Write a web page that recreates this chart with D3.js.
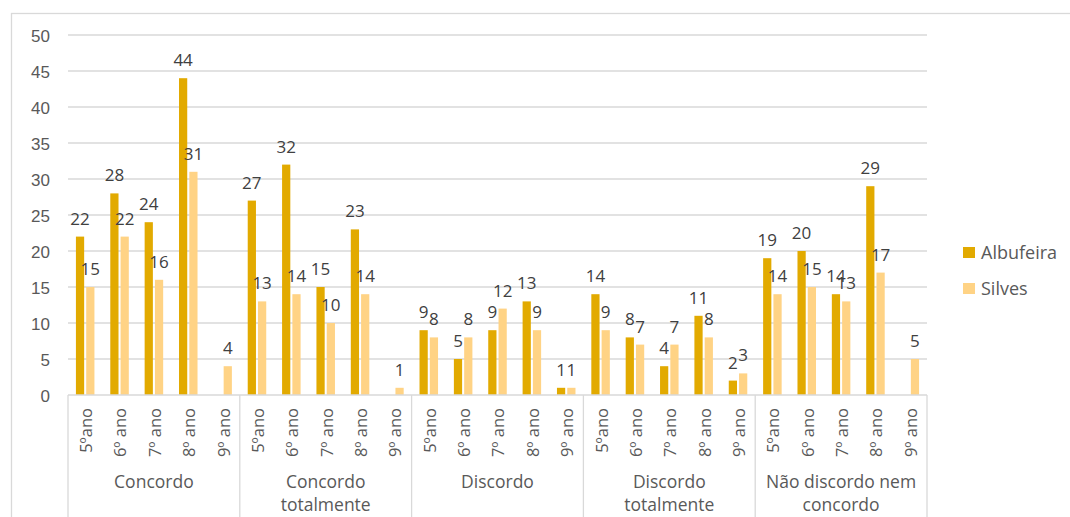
<!DOCTYPE html>
<html>
<head>
<meta charset="utf-8">
<script src="https://cdn.jsdelivr.net/npm/d3@7"></script>
<style>
  body { margin: 0; background: #fff; }
  svg { display: block; font-family: "Open Sans", sans-serif; }
</style>
</head>
<body>
<script>
let groups = ["Concordo", "Concordo totalmente", "Discordo", "Discordo totalmente", "Não discordo nem concordo"];
let groupLines = [["Concordo"], ["Concordo", "totalmente"], ["Discordo"], ["Discordo", "totalmente"], ["Não discordo nem", "concordo"]];
let years = ["5ºano", "6º ano", "7º ano", "8º ano", "9º ano"];
let series = ["Albufeira", "Silves"];
let colors = ["#e2aa00", "#ffd385"];

// one row per group, one value per year (null = no bar)
let albufeira = [
  [22, 28, 24, 44, null],
  [27, 32, 15, 23, null],
  [9, 5, 9, 13, 1],
  [14, 8, 4, 11, 2],
  [19, 20, 14, 29, null]
];
let silves = [
  [15, 22, 16, 31, 4],
  [13, 14, 10, 14, 1],
  [8, 8, 12, 9, 1],
  [9, 7, 7, 8, 3],
  [14, 15, 13, 17, 5]
];
let yTicks = [0, 5, 10, 15, 20, 25, 30, 35, 40, 45, 50];

let W = 1070, H = 517;
let plot = {left: 68, right: 927, top: 35, bottom: 395};

let svg = d3.select("body").append("svg")
  .attr("width", W)
  .attr("height", H);

// chart frame
svg.append("rect")
  .attr("x", 11.5).attr("y", 13.5)
  .attr("width", W + 20).attr("height", H + 20)
  .attr("fill", "none")
  .attr("stroke", "#d9d9d9")
  .attr("stroke-width", 1.3);

let y = d3.scaleLinear().domain([0, 50]).range([plot.bottom, plot.top]);

let x0 = d3.scaleBand().domain(groups).range([plot.left, plot.right]);
let x1 = d3.scaleBand().domain(years).range([0, x0.bandwidth()]);
let x2 = d3.scaleBand().domain(series).range([0, x1.bandwidth()])
  .paddingInner(0.2).paddingOuter(0.77);

// gridlines + y labels
let yAxis = d3.axisLeft(y).tickValues(yTicks).tickSize(0).tickPadding(18);
let gy = svg.append("g")
  .attr("transform", "translate(" + plot.left + ",0)")
  .call(yAxis);
gy.select(".domain").remove();
gy.selectAll(".tick line").remove();
gy.selectAll(".tick text")
  .attr("fill", "#595959")
  .style("font-size", "17px")
  .attr("dy", "0.36em");

svg.append("g").selectAll("line")
  .data(yTicks.filter(d => d > 0))
  .enter().append("line")
  .attr("x1", plot.left).attr("x2", plot.right)
  .attr("y1", d => y(d)).attr("y2", d => y(d))
  .attr("stroke", "#d9d9d9")
  .attr("stroke-width", 1.3);

// bars
let rows = [];
groups.forEach((g, gi) => {
  years.forEach((yr, yi) => {
    rows.push({group: g, year: yr, key: "Albufeira", value: albufeira[gi][yi]});
    rows.push({group: g, year: yr, key: "Silves", value: silves[gi][yi]});
  });
});
let shown = rows.filter(d => d.value != null);
let barX = d => x0(d.group) + x1(d.year) + x2(d.key);

svg.append("g").selectAll("rect")
  .data(shown)
  .enter().append("rect")
  .attr("x", barX)
  .attr("y", d => y(d.value))
  .attr("width", x2.bandwidth())
  .attr("height", d => y(0) - y(d.value))
  .attr("fill", d => colors[series.indexOf(d.key)]);

svg.append("g").selectAll("text")
  .data(shown)
  .enter().append("text")
  .attr("x", d => barX(d) + x2.bandwidth() / 2)
  .attr("y", d => y(d.value) - 12)
  .attr("text-anchor", "middle")
  .attr("fill", "#404040")
  .style("font-size", "17px")
  .text(d => d.value);

// category axis: baseline + group separators
svg.append("line")
  .attr("x1", plot.left).attr("x2", plot.right)
  .attr("y1", y(0)).attr("y2", y(0))
  .attr("stroke", "#d9d9d9").attr("stroke-width", 1.3);

let seps = groups.map(g => x0(g)).concat([plot.right]);
svg.append("g").selectAll("line")
  .data(seps)
  .enter().append("line")
  .attr("x1", d => d).attr("x2", d => d)
  .attr("y1", y(0)).attr("y2", H + 10)
  .attr("stroke", "#d9d9d9").attr("stroke-width", 1.3);

// year labels (rotated)
let yearTicks = [];
groups.forEach(g => years.forEach(yr => yearTicks.push({group: g, year: yr})));
svg.append("g").selectAll("text")
  .data(yearTicks)
  .enter().append("text")
  .attr("transform", d => "translate(" + (x0(d.group) + x1(d.year) + x1.bandwidth() / 2 + 1) + "," + (y(0) + 13) + ") rotate(-90)")
  .attr("text-anchor", "end")
  .attr("dy", "0.36em")
  .attr("fill", "#595959")
  .style("font-size", "16.5px")
  .text(d => d.year);

// group labels
let gl = svg.append("g").selectAll("text")
  .data(groups)
  .enter().append("text")
  .attr("x", d => x0(d) + x0.bandwidth() / 2)
  .attr("y", 488)
  .attr("text-anchor", "middle")
  .attr("fill", "#595959")
  .style("font-size", "17.5px");
gl.each(function(d, i) {
  d3.select(this).selectAll("tspan")
    .data(groupLines[i])
    .enter().append("tspan")
    .attr("x", x0(d) + x0.bandwidth() / 2)
    .attr("dy", (t, j) => j === 0 ? 0 : 23)
    .text(t => t);
});

// legend
let legend = svg.append("g").attr("transform", "translate(963,247)");
series.forEach((s, i) => {
  legend.append("rect")
    .attr("x", 0).attr("y", i * 36)
    .attr("width", 12).attr("height", 11)
    .attr("fill", colors[i]);
  legend.append("text")
    .attr("x", 18).attr("y", i * 36 + 5.5)
    .attr("dy", "0.36em")
    .attr("fill", "#595959")
    .style("font-size", "18px")
    .text(s);
});
</script>
</body>
</html>
